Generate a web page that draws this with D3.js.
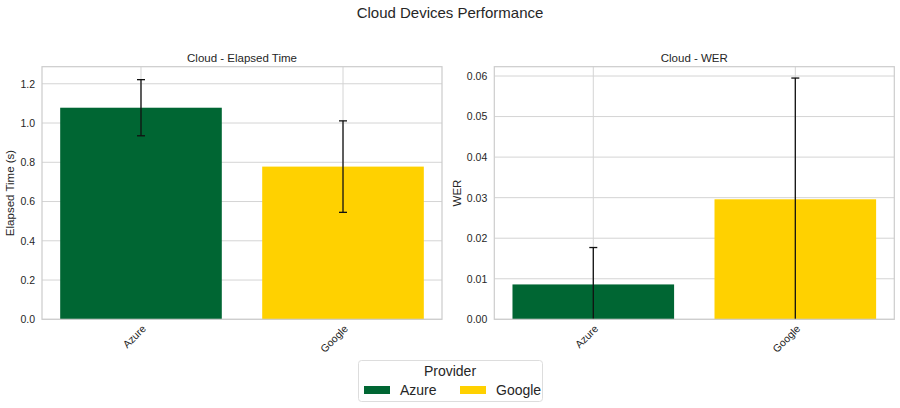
<!DOCTYPE html>
<html>
<head>
<meta charset="utf-8">
<script src="https://cdn.jsdelivr.net/npm/d3@7"></script>
<style>
  body { margin: 0; background: #fff; }
  svg { font-family: "Liberation Sans", Arial, sans-serif; }
  .tick text { fill: #262626; }
</style>
</head>
<body>
<svg id="chart" width="900" height="408"></svg>
<script>
// chart data
var providers = ["Azure", "Google"];
var colors = ["#006633", "#FFD100"];

var elapsedMean = [1.078, 0.778];
var elapsedStd = [0.143, 0.233];
var elapsedTicks = [0, 0.2, 0.4, 0.6, 0.8, 1.0, 1.2];

var werMean = [0.0086, 0.0296];
var werStd = [0.0091, 0.0299];
var werTicks = [0, 0.01, 0.02, 0.03, 0.04, 0.05, 0.06];

var svg = d3.select("#chart");

svg.append("text")
	.attr("x", 450)
	.attr("y", 18)
	.attr("text-anchor", "middle")
	.style("font-size", "15px")
	.style("fill", "#262626")
	.text("Cloud Devices Performance");

function panel(left, title, ylabel, labelOffset, means, stds, ticks, fmt, yMax)
{
	var top = 66.7, bottom = 319.3, width = 400;
	var g = svg.append("g");

	var x = d3.scaleLinear().domain([-0.49, 1.49]).range([left, left + width]);
	var y = d3.scaleLinear().domain([0, yMax]).range([bottom, top]);

	// grid
	g.selectAll("line.hgrid")
		.data(ticks)
		.enter()
		.append("line")
		.attr("x1", left).attr("x2", left + width)
		.attr("y1", function(d) { return y(d); })
		.attr("y2", function(d) { return y(d); })
		.style("stroke", "#d4d4d4")
		.style("stroke-width", 1);

	g.selectAll("line.vgrid")
		.data(providers)
		.enter()
		.append("line")
		.attr("x1", function(d, i) { return x(i); })
		.attr("x2", function(d, i) { return x(i); })
		.attr("y1", top).attr("y2", bottom)
		.style("stroke", "#d4d4d4")
		.style("stroke-width", 1);

	// bars
	g.selectAll("rect.bar")
		.data(means)
		.enter()
		.append("rect")
		.attr("x", function(d, i) { return x(i - 0.4); })
		.attr("width", x(0.4) - x(-0.4))
		.attr("y", function(d) { return y(d); })
		.attr("height", function(d) { return bottom - y(d); })
		.style("fill", function(d, i) { return colors[i]; });

	// error bars
	means.forEach(function(m, i)
	{
		var hi = m + stds[i], lo = Math.max(0, m - stds[i]);
		var cx = x(i);
		g.append("line")
			.attr("x1", cx).attr("x2", cx)
			.attr("y1", y(hi)).attr("y2", y(lo))
			.style("stroke", "#111").style("stroke-width", 1.3);
		[hi, m - stds[i]].forEach(function(v)
		{
			if (v < 0) return;
			g.append("line")
				.attr("x1", cx - 4).attr("x2", cx + 4)
				.attr("y1", y(v)).attr("y2", y(v))
				.style("stroke", "#111").style("stroke-width", 1.3);
		});
	});

	// frame
	g.append("rect")
		.attr("x", left).attr("y", top)
		.attr("width", width).attr("height", bottom - top)
		.style("fill", "none")
		.style("stroke", "#cccccc")
		.style("stroke-width", 1.2);

	// y axis
	var yAxis = d3.axisLeft(y).tickValues(ticks).tickFormat(fmt).tickSize(0).tickPadding(7);
	var ya = g.append("g").attr("transform", "translate(" + left + ",0)").call(yAxis);
	ya.select(".domain").remove();
	ya.selectAll("text").style("font-size", "10.5px");

	// x axis
	var xa = g.append("g").attr("transform", "translate(0," + bottom + ")")
		.call(d3.axisBottom(x).tickValues([0, 1]).tickFormat(function(d) { return providers[d]; }).tickSize(0));
	xa.select(".domain").remove();
	xa.selectAll("text")
		.style("font-size", "10.5px")
		.attr("text-anchor", "end")
		.attr("dy", 0)
		.attr("transform", "translate(3,8) rotate(-45)");

	g.append("text")
		.attr("x", left + width / 2)
		.attr("y", 62)
		.attr("text-anchor", "middle")
		.style("font-size", "11.5px")
		.style("fill", "#262626")
		.text(title);

	g.append("text")
		.attr("transform", "translate(" + (left - labelOffset) + "," + ((top + bottom) / 2) + ") rotate(-90)")
		.attr("text-anchor", "middle")
		.attr("dy", "0.35em")
		.style("font-size", "11.5px")
		.style("fill", "#262626")
		.text(ylabel);
}

panel(42, "Cloud - Elapsed Time", "Elapsed Time (s)", 32, elapsedMean, elapsedStd, elapsedTicks, d3.format(".1f"), 1.287);
panel(494.3, "Cloud - WER", "WER", 37, werMean, werStd, werTicks, d3.format(".2f"), 0.0623);

// legend
var lg = svg.append("g");
lg.append("rect")
	.attr("x", 358.5).attr("y", 360.5)
	.attr("width", 184).attr("height", 41)
	.attr("rx", 3)
	.style("fill", "#fff")
	.style("stroke", "#dddddd");

lg.append("text")
	.attr("x", 450).attr("y", 376)
	.attr("text-anchor", "middle")
	.style("font-size", "14px")
	.style("fill", "#262626")
	.text("Provider");

var items = lg.selectAll("g.item")
	.data(providers)
	.enter()
	.append("g")
	.attr("transform", function(d, i) { return "translate(" + (364 + i * 96) + ",386)"; });

items.append("rect")
	.attr("width", 26).attr("height", 8)
	.style("fill", function(d, i) { return colors[i]; });

items.append("text")
	.attr("x", 36).attr("y", 9)
	.style("font-size", "14px")
	.style("fill", "#262626")
	.text(function(d) { return d; });
</script>
</body>
</html>
